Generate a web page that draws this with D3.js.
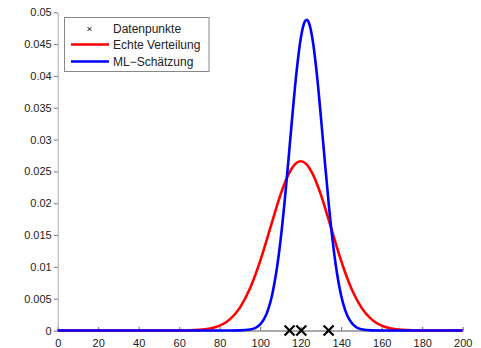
<!DOCTYPE html>
<html>
<head>
<meta charset="utf-8">
<script src="https://cdn.jsdelivr.net/npm/d3@7"></script>
<style>
  html, body { margin: 0; padding: 0; background: #fff; }
  svg { display: block; }
  text { font-family: Arial, "Liberation Sans", sans-serif; fill: #222; }
</style>
</head>
<body>
<svg id="chart" width="481" height="348"></svg>
<script>
// Sample positions along x and the densities read at each position
const xs = [0, 40, 60, 70, 80, 85, 90, 95,
  100, 102, 104, 106, 108, 110, 112, 114, 116, 118, 120, 122, 123, 124, 126, 128,
  130, 132, 134, 136, 138, 140, 142, 144, 146,
  150, 155, 160, 170, 180, 200];

// True distribution
const echteVerteilung = [0, 0, 0.00001, 0.0001, 0.00076, 0.00175, 0.0036, 0.00663,
  0.01093, 0.01295, 0.01506, 0.0172, 0.01931, 0.0213, 0.02307, 0.02455, 0.02567, 0.02636, 0.0266, 0.02636, 0.02607, 0.02567, 0.02455, 0.02307,
  0.0213, 0.01931, 0.0172, 0.01506, 0.01295, 0.01093, 0.00907, 0.00739, 0.00592,
  0.0036, 0.00175, 0.00076, 0.0001, 0.00001, 0];

// Maximum-likelihood estimate
const mlSchaetzung = [0, 0, 0, 0, 0, 0.000002, 0.000015, 0.000144,
  0.00096, 0.00185, 0.00336, 0.00575, 0.00926, 0.01404, 0.02005, 0.02698, 0.03418, 0.04079, 0.04585, 0.04853, 0.04883, 0.04839, 0.04544, 0.04019,
  0.03347, 0.02626, 0.0194, 0.0135, 0.00885, 0.00546, 0.00317, 0.00174, 0.0009,
  0.0002, 0.00002, 0, 0, 0, 0];

// Observed samples
const datenpunkte = [114.5, 120.3, 133.8];

const xTicks = [0, 20, 40, 60, 80, 100, 120, 140, 160, 180, 200];
const yTicks = [0, 0.005, 0.01, 0.015, 0.02, 0.025, 0.03, 0.035, 0.04, 0.045, 0.05];
const yTickLabels = ["0", "0.005", "0.01", "0.015", "0.02", "0.025", "0.03", "0.035", "0.04", "0.045", "0.05"];

const legendLabels = ["Datenpunkte", "Echte Verteilung", "ML\u2212Schätzung"];

const svg = d3.select("#chart");
const plot = { left: 57.7, right: 462.7, top: 12.3, bottom: 330.5 };

const x = d3.scaleLinear().domain([0, 200]).range([plot.left, plot.right]);
const y = d3.scaleLinear().domain([0, 0.05]).range([plot.bottom, plot.top]);

// Axes
const xAxis = svg.append("g")
  .attr("transform", `translate(0,${plot.bottom})`)
  .call(d3.axisBottom(x).tickValues(xTicks).tickSizeInner(-3.5).tickSizeOuter(0).tickPadding(9));
xAxis.select(".domain").attr("stroke", "#555").attr("stroke-width", 1);
xAxis.selectAll(".tick line").attr("stroke", "#666");
xAxis.selectAll("text").attr("font-size", 11).attr("fill", "#222")
  .style("font-family", "Arial, 'Liberation Sans', sans-serif");

const yAxis = svg.append("g")
  .attr("transform", `translate(${plot.left},0)`)
  .call(d3.axisLeft(y).tickValues(yTicks).tickFormat((d, i) => yTickLabels[i])
    .tickSizeInner(4).tickSizeOuter(0).tickPadding(2));
yAxis.select(".domain").attr("stroke", "#aaa").attr("stroke-width", 1);
yAxis.selectAll(".tick line").attr("stroke", "#777");
yAxis.selectAll("text").attr("font-size", 11).attr("fill", "#222")
  .style("font-family", "Arial, 'Liberation Sans', sans-serif");

// Curves
const line = (vals) => d3.line()
  .x((d, i) => x(xs[i]))
  .y(d => y(d))
  .curve(d3.curveMonotoneX)(vals);

svg.append("path").attr("d", line(echteVerteilung))
  .attr("fill", "none").attr("stroke", "#ff0000").attr("stroke-width", 2.6);
svg.append("path").attr("d", line(mlSchaetzung))
  .attr("fill", "none").attr("stroke", "#0000ff").attr("stroke-width", 2.6);

// Sample markers
const cross = (g, cx, cy, r, w) => {
  g.append("path")
    .attr("d", `M${cx - r},${cy - r}L${cx + r},${cy + r}M${cx - r},${cy + r}L${cx + r},${cy - r}`)
    .attr("stroke", "#000").attr("stroke-width", w).attr("fill", "none");
};
const marks = svg.append("g");
datenpunkte.forEach(d => cross(marks, x(d), y(0), 5, 2.2));

// Legend
const lg = svg.append("g");
lg.append("rect").attr("x", 64.5).attr("y", 17.5).attr("width", 144.5).attr("height", 54)
  .attr("fill", "#fff").attr("stroke", "#888").attr("stroke-width", 1);
const rowY = [29, 44.5, 61.5];
cross(lg, 89.5, rowY[0], 1.8, 1);
lg.append("line").attr("x1", 71).attr("x2", 109).attr("y1", rowY[1]).attr("y2", rowY[1])
  .attr("stroke", "#ff0000").attr("stroke-width", 2.6);
lg.append("line").attr("x1", 71).attr("x2", 109).attr("y1", rowY[2]).attr("y2", rowY[2])
  .attr("stroke", "#0000ff").attr("stroke-width", 2.6);
legendLabels.forEach((t, i) => {
  lg.append("text").attr("x", 113).attr("y", rowY[i]).attr("dy", "0.35em")
    .attr("font-size", 12).text(t);
});
</script>
</body>
</html>
